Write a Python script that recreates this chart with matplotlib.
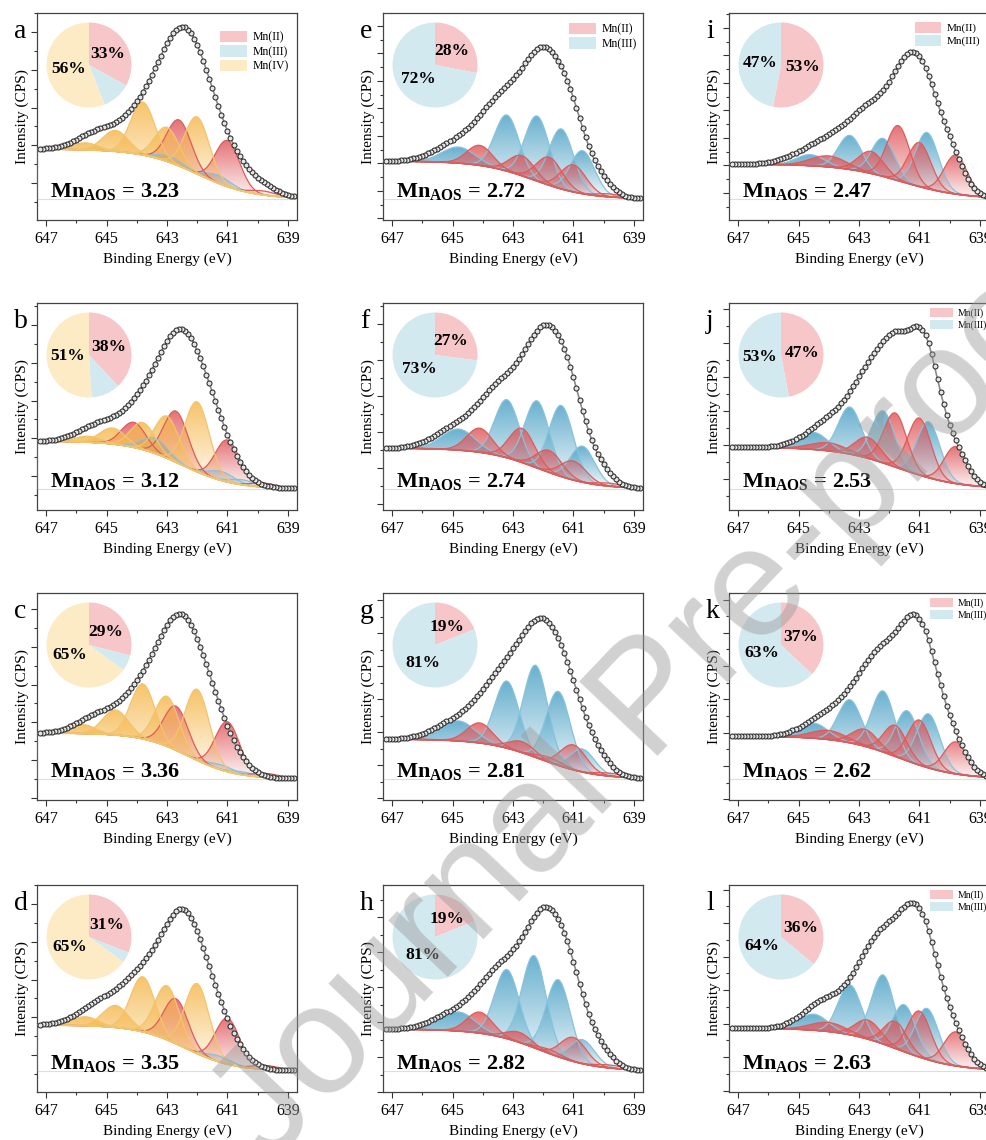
import numpy as np
import matplotlib.pyplot as plt
import matplotlib.colors as mcolors
from matplotlib.patches import Patch, Polygon
from matplotlib.ticker import MultipleLocator, AutoMinorLocator
from matplotlib.transforms import blended_transform_factory

plt.rcParams['font.family'] = ['Liberation Serif', 'DejaVu Serif']
plt.rcParams['mathtext.fontset'] = 'custom'
plt.rcParams['mathtext.rm'] = 'Liberation Serif'
plt.rcParams['mathtext.bf'] = 'Liberation Serif:bold'

# ---- data (y in arbitrary intensity units above the zero line) ----
letters = list('abcdefghijkl')
aos = ['3.23', '3.12', '3.36', '3.35', '2.72', '2.74', '2.81', '2.82',
       '2.47', '2.53', '2.62', '2.63']
pie_mn2 = [33, 38, 29, 31, 28, 27, 19, 19, 53, 47, 37, 36]
pie_mn3 = [11, 11, 6, 4, 72, 73, 81, 81, 47, 53, 63, 64]
pie_mn4 = [56, 51, 65, 65, 0, 0, 0, 0, 0, 0, 0, 0]

# Shirley-like background: left level, mid point (eV), width (eV)
bg_level = [50, 48, 46, 46, 38, 41, 40, 42, 35, 42, 43, 43]
bg_mid = [642.0, 642.5, 642.3, 642.4, 642.3, 642.15, 642.1, 642.1,
          641.6, 641.7, 641.7, 641.7]
bg_width = [0.9, 0.85, 0.78, 0.8, 0.88, 0.9, 0.9, 0.9, 1.0, 1.0, 0.95, 0.95]

# measured envelope, (centre eV, height, fwhm eV)
envelope = [
    [(645.3, 16, 1.6), (643.6, 45, 1.9), (642.45, 98, 1.7), (641.5, 50, 2.0), (639.8, 6, 1.2)],
    [(645.3, 15, 1.6), (643.6, 48, 1.9), (642.5, 100, 1.6), (641.5, 50, 1.6)],
    [(645.3, 16, 1.6), (643.6, 52, 1.9), (642.5, 102, 1.6), (641.5, 48, 1.6)],
    [(645.2, 20, 1.7), (643.6, 58, 1.9), (642.45, 98, 1.5), (641.5, 50, 1.6)],
    [(645.0, 14, 1.7), (643.3, 68, 2.0), (641.9, 110, 1.6), (641.0, 45, 1.2), (640.1, 12, 1.0)],
    [(645.0, 16, 1.7), (643.3, 68, 2.0), (641.85, 120, 1.6), (641.0, 45, 1.2), (640.1, 12, 1.0)],
    [(645.0, 14, 1.7), (643.3, 66, 2.0), (641.95, 112, 1.7), (641.0, 40, 1.4), (640.1, 8, 1.0)],
    [(645.0, 13, 1.7), (643.3, 66, 2.0), (641.85, 120, 1.6), (641.0, 42, 1.2), (640.1, 13, 1.0)],
    [(644.2, 20, 2.0), (642.3, 70, 2.2), (641.6, 22, 1.0), (640.9, 96, 1.35), (639.9, 26, 1.0)],
    [(644.0, 25, 1.8), (642.3, 100, 1.9), (641.8, 28, 0.9), (640.85, 122, 1.25), (639.8, 25, 1.0)],
    [(644.0, 22, 1.8), (642.3, 90, 1.9), (640.95, 122, 1.5), (639.8, 18, 1.0)],
    [(644.2, 26, 1.6), (642.3, 100, 1.9), (640.95, 122, 1.5), (639.8, 18, 1.0)],
]

# fitted components, (state, centre eV, height, fwhm eV)
components = [
    [('III', 641.3, 8, 1.0), ('III', 642.9, 6, 1.0), ('II', 642.6, 46, 0.95), ('II', 641.0, 46, 0.95),
     ('II', 639.8, 4, 1.0), ('IV', 645.7, 7, 1.0), ('IV', 644.7, 21, 1.0), ('IV', 643.8, 53, 0.95),
     ('IV', 643.0, 34, 0.95), ('IV', 642.0, 57, 0.95)],
    [('III', 643.4, 15, 1.0), ('III', 641.2, 9, 1.0), ('III', 640.5, 5, 1.0), ('II', 644.1, 25, 0.95),
     ('II', 642.7, 51, 0.95), ('II', 641.0, 42, 0.95), ('II', 639.8, 4, 1.0), ('IV', 645.6, 6, 1.0),
     ('IV', 644.8, 16, 1.0), ('IV', 643.8, 27, 0.95), ('IV', 643.0, 42, 0.95), ('IV', 642.0, 70, 0.95)],
    [('III', 641.2, 5, 1.0), ('III', 640.5, 3, 1.0), ('II', 642.7, 44, 0.95), ('II', 641.0, 50, 0.95),
     ('II', 639.7, 4, 1.0), ('IV', 645.8, 9, 1.0), ('IV', 644.7, 25, 1.0), ('IV', 643.8, 55, 0.95),
     ('IV', 643.0, 50, 0.95), ('IV', 642.0, 71, 0.95)],
    [('III', 641.3, 6, 1.0), ('II', 642.7, 45, 0.95), ('II', 641.0, 46, 0.95), ('II', 639.7, 4, 1.0),
     ('IV', 645.7, 9, 1.0), ('IV', 644.7, 22, 1.0), ('IV', 643.8, 55, 0.95), ('IV', 643.0, 54, 0.95),
     ('IV', 642.0, 70, 0.95)],
    [('III', 644.8, 16, 1.3), ('III', 643.2, 56, 0.95), ('III', 642.2, 65, 0.95), ('III', 641.4, 60, 0.95),
     ('III', 640.7, 43, 0.95), ('II', 644.1, 20, 1.0), ('II', 642.7, 20, 1.0), ('II', 641.8, 28, 1.0),
     ('II', 641.0, 27, 1.0), ('II', 639.8, 3, 1.0)],
    [('III', 644.8, 21, 1.3), ('III', 643.2, 58, 0.95), ('III', 642.2, 67, 0.95), ('III', 641.4, 71, 0.95),
     ('III', 640.7, 36, 0.95), ('II', 644.1, 24, 1.0), ('II', 642.7, 34, 1.0), ('II', 641.8, 22, 1.0),
     ('II', 641.0, 19, 1.0), ('II', 639.8, 3, 1.0)],
    [('III', 644.8, 20, 1.3), ('III', 643.2, 67, 0.95), ('III', 642.25, 92, 0.95), ('III', 641.5, 74, 0.95),
     ('III', 640.7, 23, 0.95), ('II', 644.1, 20, 1.0), ('II', 642.7, 11, 1.0), ('II', 641.8, 5, 1.0),
     ('II', 641.0, 25, 1.0), ('II', 639.8, 3, 1.0)],
    [('III', 644.8, 19, 1.3), ('III', 643.2, 69, 0.95), ('III', 642.3, 92, 0.95), ('III', 641.5, 77, 0.95),
     ('III', 640.7, 24, 0.95), ('II', 644.1, 21, 1.0), ('II', 642.8, 10, 1.0), ('II', 641.8, 4, 1.0),
     ('II', 641.0, 24, 1.0), ('II', 639.8, 3, 1.0)],
    [('III', 644.6, 11, 1.1), ('III', 643.3, 34, 0.9), ('III', 642.2, 38, 0.9), ('III', 640.75, 56, 0.9),
     ('II', 644.0, 11, 1.4), ('II', 642.6, 22, 1.0), ('II', 641.7, 55, 0.9), ('II', 641.0, 44, 0.9),
     ('II', 639.8, 39, 0.9)],
    [('III', 644.5, 17, 1.1), ('III', 643.3, 47, 0.9), ('III', 642.2, 52, 0.9), ('III', 640.7, 56, 0.9),
     ('II', 644.0, 8, 1.4), ('II', 642.7, 21, 1.0), ('II', 641.8, 54, 0.9), ('II', 641.0, 57, 0.9),
     ('II', 639.8, 37, 0.9)],
    [('III', 644.5, 15, 1.1), ('III', 643.3, 43, 0.9), ('III', 642.2, 61, 0.9), ('III', 641.4, 50, 0.9),
     ('III', 640.7, 54, 0.9), ('II', 644.0, 9, 1.4), ('II', 642.8, 17, 1.0), ('II', 641.8, 31, 0.9),
     ('II', 641.0, 45, 0.9), ('II', 639.8, 32, 0.9)],
    [('III', 644.5, 16, 1.1), ('III', 643.3, 50, 0.9), ('III', 642.2, 69, 0.9), ('III', 641.5, 47, 0.9),
     ('III', 640.75, 51, 0.9), ('II', 644.0, 9, 1.4), ('II', 642.7, 19, 1.0), ('II', 641.8, 27, 0.9),
     ('II', 641.0, 46, 0.9), ('II', 639.8, 34, 0.9)],
]

# ---- styles ----
fill_col = {'II': '#e05a5e', 'III': '#4fa3c7', 'IV': '#f6b94f'}
edge_col = {'II': '#dd5c5c', 'III': '#86c3db', 'IV': '#f3c46e'}
pale_col = {'II': '#f6c6c8', 'III': '#d3e9f0', 'IV': '#fdebc6'}
names = {'II': 'Mn(II)', 'III': 'Mn(III)', 'IV': 'Mn(IV)'}

# per panel y tick spacing / offset
ytick_step = [37.7, 37.7, 37.7, 37.7, 27.5, 36, 33, 35, 27.5, 34, 33.3, 33.5]
ytick_off = [16, 13, 19, 16, 8, 21, 14, 14, 6, 10, 13, 14]
# legend: (anchor x, anchor y, fontsize)
legend_pos = {0: (0.969, 0.913, 8.5), 4: (0.977, 0.952, 8.5), 8: (0.965, 0.957, 8),
              9: (0.992, 0.976, 7), 10: (0.992, 0.976, 7), 11: (0.992, 0.976, 7)}

W, H = 987, 1140
col_left = [37, 383, 729]
row_top = [13, 303, 593, 885]
ax_w, ax_h = 260, 207
XL, XR = 647.3, 638.7


def gauss(xv, c, h, w):
    return h * np.exp(-4 * np.log(2) * (xv - c) ** 2 / w ** 2)


def gradient_fill(ax, xv, lower, upper, color):
    top = upper.max()
    verts = np.column_stack([np.r_[xv, xv[::-1]], np.r_[upper, lower[::-1]]])
    poly = Polygon(verts, closed=True, facecolor='none', edgecolor='none')
    ax.add_patch(poly)
    img = np.zeros((200, 1, 4))
    img[:, 0, :3] = mcolors.to_rgb(color)
    img[:, 0, 3] = np.linspace(0.04, 0.85, 200)
    im = ax.imshow(img, extent=[xv.min(), xv.max(), 0, top], origin='lower',
                   aspect='auto', interpolation='bilinear', zorder=2)
    im.set_clip_path(poly)


fig = plt.figure(figsize=(W / 100, H / 100), dpi=100)
x = np.linspace(XR, XL, 700)
xm = np.arange(638.8, 647.25, 0.1)

for k in range(12):
    col, row = k // 4, k % 4
    left, top = col_left[col], row_top[row]
    ax = fig.add_axes([left / W, 1 - (top + ax_h) / H, ax_w / W, ax_h / H])

    bg = bg_level[k] / (1 + np.exp(-(x - bg_mid[k]) / bg_width[k]))
    bgm = bg_level[k] / (1 + np.exp(-(xm - bg_mid[k]) / bg_width[k]))

    last = None
    for state, c, h, w in components[k]:
        up = bg + gauss(x, c, h, w)
        gradient_fill(ax, x, bg, up, fill_col[state])
        ax.plot(x, up, color=edge_col[state], lw=0.9, zorder=3)
        last = state
    ax.plot(x, bg, color=edge_col[last], lw=1.3, zorder=3)
    ax.plot([XL, XR], [0, 0], color='#e6dcd6', lw=0.8, zorder=1)
    ax.plot([XL + 0.02, XL + 0.02], [0, bg[-1]], color=edge_col[last], lw=1.0, zorder=3)

    env = bg + sum(gauss(x, c, h, w) for c, h, w in envelope[k])
    envm = bgm + sum(gauss(xm, c, h, w) for c, h, w in envelope[k])
    ax.plot(x, env, color='#8a8a8a', lw=1.2, zorder=4)
    ax.plot(xm, envm, 'o', ms=3.6, mfc='#e4e4e4', mec='#2a2a2a', mew=0.75, zorder=5)

    ax.set_xlim(XL, XR)
    ax.set_ylim(-21, 186)
    ax.xaxis.set_major_locator(MultipleLocator(2, offset=1))
    ax.xaxis.set_minor_locator(MultipleLocator(1))
    ax.yaxis.set_major_locator(MultipleLocator(ytick_step[k], offset=ytick_off[k]))
    ax.yaxis.set_minor_locator(AutoMinorLocator(2))
    ax.set_yticklabels([])
    ax.tick_params(axis='both', which='major', direction='out', length=4.5, width=0.8,
                   color='#333333', labelsize=11.5)
    ax.tick_params(axis='both', which='minor', direction='out', length=2.5, width=0.8,
                   color='#333333')
    for sp in ax.spines.values():
        sp.set_color('#444444')
        sp.set_linewidth(0.9)
    ax.set_xlabel('Binding Energy (eV)', fontsize=11, labelpad=4)
    ax.set_ylabel('Intensity (CPS)', fontsize=11)
    ax.yaxis.set_label_coords(-0.03, 0.5)

    tr = blended_transform_factory(ax.transAxes, ax.transData)
    ax.text(0.05, 2, r'$\mathbf{Mn}_{\mathbf{AOS}}$' + ' = ' + aos[k], transform=tr,
            fontsize=16, fontweight='bold', ha='left', va='baseline', zorder=6)

    fig.text((left - 23) / W, 1 - (top + 25) / H, letters[k], fontsize=20,
             ha='left', va='baseline')

    # legend
    if k in legend_pos:
        lx, ly, fs = legend_pos[k]
        states = ['II', 'III', 'IV'] if col == 0 else ['II', 'III']
        handles = [Patch(facecolor=pale_col[s], edgecolor='none', label=names[s]) for s in states]
        ax.legend(handles=handles, loc='upper right', bbox_to_anchor=(lx, ly), frameon=False,
                  fontsize=fs, handlelength=2.3, handleheight=1.1, labelspacing=0.15,
                  handletextpad=0.5, borderpad=0, borderaxespad=0)

    # pie inset
    r = 42.5
    cx, cy = left + 52, top + 52
    pax = fig.add_axes([(cx - r) / W, 1 - (cy + r) / H, 2 * r / W, 2 * r / H])
    vals = [pie_mn2[k], pie_mn3[k], pie_mn4[k]]
    cols = [pale_col['II'], pale_col['III'], pale_col['IV']]
    keep = [i for i, v in enumerate(vals) if v > 0]
    wedges, _ = pax.pie([vals[i] for i in keep], colors=[cols[i] for i in keep],
                        startangle=90, counterclock=False, radius=1.0)
    for i, wdg in zip(keep, wedges):
        if vals[i] < 15:
            continue
        mid = np.deg2rad(0.5 * (wdg.theta1 + wdg.theta2))
        pax.text(0.5 * np.cos(mid), 0.5 * np.sin(mid), '%d%%' % vals[i], fontsize=12.5,
                 fontweight='bold', ha='center', va='center')
    pax.set_xlim(-1, 1)
    pax.set_ylim(-1, 1)

# watermark
fig.text(269 / W, 1 - 1166 / H, 'Journal Pre-proof', fontsize=112, color='#9a9a9a',
         alpha=0.45, rotation=46.5, rotation_mode='anchor', ha='left', va='baseline',
         family=['Liberation Sans', 'DejaVu Sans'], zorder=20)

fig.savefig('out.png', dpi=100)
